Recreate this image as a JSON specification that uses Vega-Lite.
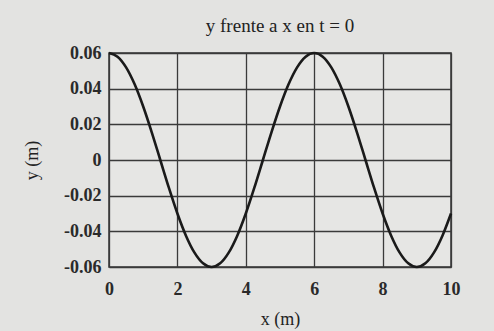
{
  "$schema": "https://vega.github.io/schema/vega-lite/v6.json",
  "width": 342,
  "height": 214,
  "autosize": {"type": "none"},
  "padding": {"left": 109, "top": 53, "right": 43, "bottom": 64},
  "background": "#e3e3e1",
  "title": {
    "text": "y frente a x en t = 0",
    "font": "Liberation Serif",
    "fontSize": 19,
    "fontWeight": "normal",
    "color": "#222222",
    "offset": 8
  },
  "config": {
    "view": {"stroke": "#333333", "strokeWidth": 1.5, "fill": "#e6e6e4"},
    "axis": {
      "labelFont": "Liberation Serif",
      "titleFont": "Liberation Serif",
      "labelFontSize": 18,
      "titleFontSize": 18,
      "labelColor": "#2a2a2a",
      "titleColor": "#222222",
      "titleFontWeight": "normal",
      "labelFontWeight": "bold",
      "grid": true,
      "gridColor": "#3a3a3a",
      "gridWidth": 1.3,
      "gridOpacity": 1,
      "ticks": false,
      "domain": false
    }
  },
  "data": {
    "values": [
      {"x": 0, "y": 0.06}, {"x": 0.25, "y": 0.05796}, {"x": 0.5, "y": 0.05196}, {"x": 0.75, "y": 0.04243},
      {"x": 1, "y": 0.03}, {"x": 1.25, "y": 0.01553}, {"x": 1.5, "y": 0}, {"x": 1.75, "y": -0.01553},
      {"x": 2, "y": -0.03}, {"x": 2.25, "y": -0.04243}, {"x": 2.5, "y": -0.05196}, {"x": 2.75, "y": -0.05796},
      {"x": 3, "y": -0.06}, {"x": 3.25, "y": -0.05796}, {"x": 3.5, "y": -0.05196}, {"x": 3.75, "y": -0.04243},
      {"x": 4, "y": -0.03}, {"x": 4.25, "y": -0.01553}, {"x": 4.5, "y": 0}, {"x": 4.75, "y": 0.01553},
      {"x": 5, "y": 0.03}, {"x": 5.25, "y": 0.04243}, {"x": 5.5, "y": 0.05196}, {"x": 5.75, "y": 0.05796},
      {"x": 6, "y": 0.06}, {"x": 6.25, "y": 0.05796}, {"x": 6.5, "y": 0.05196}, {"x": 6.75, "y": 0.04243},
      {"x": 7, "y": 0.03}, {"x": 7.25, "y": 0.01553}, {"x": 7.5, "y": 0}, {"x": 7.75, "y": -0.01553},
      {"x": 8, "y": -0.03}, {"x": 8.25, "y": -0.04243}, {"x": 8.5, "y": -0.05196}, {"x": 8.75, "y": -0.05796},
      {"x": 9, "y": -0.06}, {"x": 9.25, "y": -0.05796}, {"x": 9.5, "y": -0.05196}, {"x": 9.75, "y": -0.04243},
      {"x": 10, "y": -0.03}
    ]
  },
  "mark": {"type": "line", "color": "#1a1a1a", "strokeWidth": 2.6, "interpolate": "monotone"},
  "encoding": {
    "x": {
      "field": "x", "type": "quantitative",
      "scale": {"domain": [0, 10], "nice": false, "zero": false},
      "axis": {"values": [0, 2, 4, 6, 8, 10], "title": "x (m)", "labelPadding": 13, "titlePadding": 12, "labelFlush": false}
    },
    "y": {
      "field": "y", "type": "quantitative",
      "scale": {"domain": [-0.06, 0.06], "nice": false, "zero": false},
      "axis": {"values": [-0.06, -0.04, -0.02, 0, 0.02, 0.04, 0.06], "title": "y (m)", "labelPadding": 8, "titlePadding": 22, "labelFlush": false, "labelExpr": "replace(format(datum.value, '~g'), '\u2212', '-')"}
    }
  }
}
